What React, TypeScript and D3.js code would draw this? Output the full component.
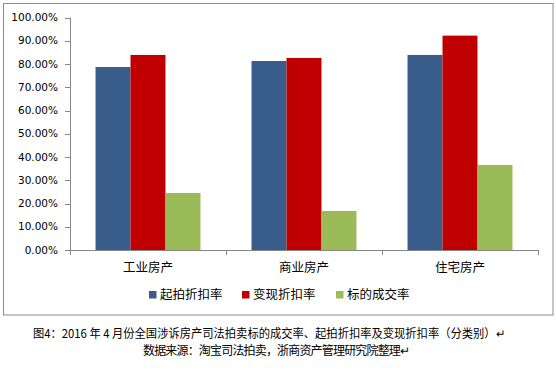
import React from "react";
import * as d3 from "d3";

const categories = ["工业房产", "商业房产", "住宅房产"];
const seriesNames = ["起拍折扣率", "变现折扣率", "标的成交率"];
const startDiscount = [78.7, 81.3, 83.9];
const realizeDiscount = [83.9, 82.6, 92.2];
const dealRate = [24.5, 16.8, 36.6];
const yTicks = [0, 10, 20, 30, 40, 50, 60, 70, 80, 90, 100];
const colors = ["#385D8A", "#C00000", "#9BBB59"];
const caption1 = "图4：2016 年 4 月份全国涉诉房产司法拍卖标的成交率、起拍折扣率及变现折扣率（分类别）↵";
const caption2 = "数据来源：淘宝司法拍卖，浙商资产管理研究院整理↵";

export default function App() {
  const W = 556, H = 370;
  const left = 70, right = 538, top = 17.5, bottom = 250;
  const series = [startDiscount, realizeDiscount, dealRate];
  const x = d3.scaleBand<string>().domain(categories).range([left, right]).paddingInner(0).paddingOuter(0);
  const inner = d3.scaleBand<number>().domain([0, 1, 2]).range([0, x.bandwidth()]).paddingOuter(0.73).paddingInner(0);
  const y = d3.scaleLinear().domain([0, 100]).range([bottom, top]);
  const axisColor = "#868686";
  const cjk = "'Noto Sans CJK SC', sans-serif";
  const legendX = [149, 242, 336];
  return (
    <svg width={W} height={H} style={{ position: "absolute", left: 0, top: 0, background: "#fff" }}>
      <rect x={3.5} y={3.5} width={549.5} height={311.5} fill="#fff" stroke="#8c8c8c" strokeWidth={1} />
      {series.map((vals, si) =>
        categories.map((c, ci) => (
          <rect
            key={`${si}-${ci}`}
            x={(x(c) ?? 0) + (inner(si) ?? 0)}
            y={y(vals[ci])}
            width={inner.bandwidth()}
            height={bottom - y(vals[ci])}
            fill={colors[si]}
          />
        ))
      )}
      <line x1={left + 0.5} x2={left + 0.5} y1={top} y2={bottom} stroke={axisColor} />
      {yTicks.map((t) => (
        <g key={t}>
          <line x1={left - 5} x2={left} y1={Math.round(y(t)) + 0.5} y2={Math.round(y(t)) + 0.5} stroke={axisColor} />
          <text x={58} y={y(t)} dy="0.35em" textAnchor="end" fontFamily="'DejaVu Sans', Verdana, sans-serif" fontSize={10.5} fill="#000">
            {t.toFixed(2) + "%"}
          </text>
        </g>
      ))}
      <line x1={left} x2={right} y1={bottom + 0.5} y2={bottom + 0.5} stroke={axisColor} />
      {[...categories.map((c) => x(c) ?? 0), right].map((tx, i) => (
        <line key={i} x1={Math.round(tx) + 0.5} x2={Math.round(tx) + 0.5} y1={bottom} y2={bottom + 5} stroke={axisColor} />
      ))}
      {categories.map((c) => (
        <text key={c} x={(x(c) ?? 0) + x.bandwidth() / 2} y={272} textAnchor="middle" fontFamily={cjk} fontSize={12.5} fill="#000">
          {c}
        </text>
      ))}
      {seriesNames.map((n, i) => (
        <g key={n}>
          <rect x={legendX[i]} y={291} width={7.5} height={7.5} fill={colors[i]} />
          <text x={legendX[i] + 11} y={299} fontFamily={cjk} fontSize={12.5} fill="#000">
            {n}
          </text>
        </g>
      ))}
      <text x={33} y={338} fontFamily={cjk} fontSize={12} fill="#000" textLength={472} lengthAdjust="spacingAndGlyphs">
        {caption1}
      </text>
      <text x={143} y={355} fontFamily={cjk} fontSize={12} fill="#000" textLength={267} lengthAdjust="spacing">
        {caption2}
      </text>
    </svg>
  );
}
